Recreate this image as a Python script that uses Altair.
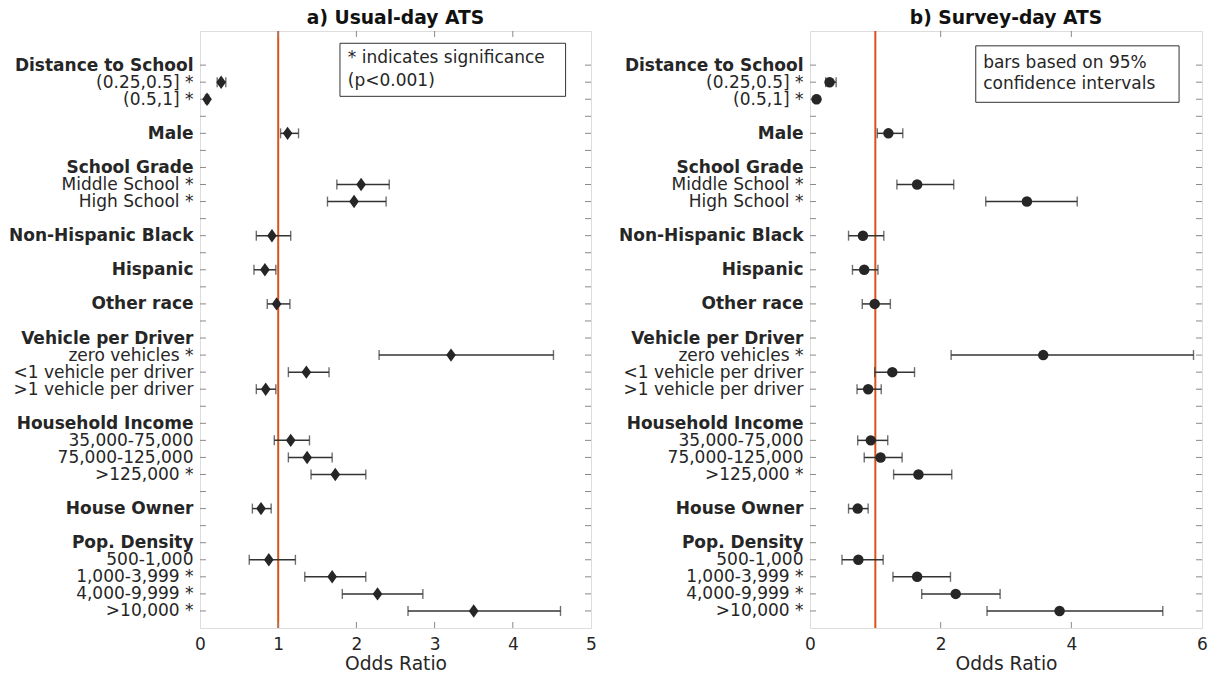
import json
import altair as alt
import pandas as pd

FONT = "DejaVu Sans"

# y-axis rows (positions 2..34 from the top), "" = empty spacer row
row_labels = ["Distance to School", "(0.25,0.5] *", "(0.5,1] *", "", "Male", "",
              "School Grade", "Middle School *", "High School *", "",
              "Non-Hispanic Black", "", "Hispanic", "", "Other race", "",
              "Vehicle per Driver", "zero vehicles *", "<1 vehicle per driver",
              ">1 vehicle per driver", "", "Household Income", "35,000-75,000",
              "75,000-125,000", ">125,000 *", "", "House Owner", "",
              "Pop. Density", "500-1,000", "1,000-3,999 *", "4,000-9,999 *", ">10,000 *"]
bold_labels = ["Distance to School", "Male", "School Grade", "Non-Hispanic Black",
               "Hispanic", "Other race", "Vehicle per Driver", "Household Income",
               "House Owner", "Pop. Density"]

# estimated rows
est_rows = ["(0.25,0.5] *", "(0.5,1] *", "Male", "Middle School *", "High School *",
            "Non-Hispanic Black", "Hispanic", "Other race", "zero vehicles *",
            "<1 vehicle per driver", ">1 vehicle per driver", "35,000-75,000",
            "75,000-125,000", ">125,000 *", "House Owner", "500-1,000",
            "1,000-3,999 *", "4,000-9,999 *", ">10,000 *"]

# a) Usual-day ATS
usual_or = [0.27, 0.09, 1.12, 2.06, 1.97, 0.92, 0.83, 0.98, 3.21, 1.36, 0.84, 1.16,
            1.37, 1.73, 0.78, 0.88, 1.69, 2.27, 3.50]
usual_lo = [0.22, 0.07, 1.03, 1.75, 1.63, 0.72, 0.69, 0.86, 2.29, 1.13, 0.72, 0.95,
            1.13, 1.42, 0.67, 0.63, 1.34, 1.82, 2.66]
usual_hi = [0.33, 0.11, 1.26, 2.42, 2.38, 1.16, 0.97, 1.15, 4.52, 1.65, 0.97, 1.40,
            1.69, 2.12, 0.91, 1.22, 2.12, 2.85, 4.61]

# b) Survey-day ATS
survey_or = [0.30, 0.10, 1.20, 1.64, 3.32, 0.81, 0.83, 0.99, 3.57, 1.26, 0.89, 0.93,
             1.08, 1.66, 0.73, 0.74, 1.64, 2.23, 3.82]
survey_lo = [0.24, 0.08, 1.03, 1.33, 2.69, 0.59, 0.65, 0.80, 2.16, 0.99, 0.72, 0.73,
             0.83, 1.28, 0.59, 0.49, 1.27, 1.71, 2.71]
survey_hi = [0.40, 0.12, 1.42, 2.20, 4.09, 1.13, 1.04, 1.23, 5.87, 1.60, 1.09, 1.19,
             1.41, 2.17, 0.89, 1.12, 2.15, 2.91, 5.40]

W_LEFT, W_RIGHT, H = 391, 392, 597
N_ROWS = 35
AXIS_GRAY = "#8a8a8a"
INK = "#262626"
RED = "#D95319"

tick_positions = list(range(2, 35))
bold_positions = [row_labels.index(b) + 2 for b in bold_labels]


def panel(title, est, lo, hi, shape, size, xmax, xvals, xticks_in, width,
          note_lines, note_x, note_y, box_x, box_x2, box_y, box_y2):
    pos = [row_labels.index(r) + 2 for r in est_rows]
    df = pd.DataFrame({"row": est_rows, "pos": pos, "or": est, "lo": lo, "hi": hi})

    ysc = alt.Scale(domain=[0, N_ROWS], reverse=True, nice=False, zero=False)
    xsc = alt.Scale(domain=[0, xmax], nice=False, zero=False)
    yaxis = alt.Axis(
        values=tick_positions,
        labelExpr=f"{json.dumps(row_labels)}[datum.value - 2]",
        labelFontWeight={"condition": {"test": f"indexof({json.dumps(bold_positions)}, datum.value) >= 0",
                                       "value": "bold"}, "value": "normal"},
        labelOverlap=False, labelBound=False, labelFlush=False, labelLimit=400,
        ticks=False, domain=False, grid=False, labelPadding=7,
        labelFont=FONT, labelFontSize=17, labelColor=INK, title=None,
    )
    xaxis = alt.Axis(
        values=xvals, format="d", ticks=False, domain=False, grid=False,
        labelFlush=False, labelPadding=8, labelFont=FONT, labelFontSize=17,
        labelColor=INK, title="Odds Ratio", titleFont=FONT, titleFontSize=18.7,
        titleFontWeight="normal", titleColor=INK, titlePadding=2,
    )

    def Y(field):
        return alt.Y(f"{field}:Q", scale=ysc, axis=yaxis)

    def X(field):
        return alt.X(f"{field}:Q", scale=xsc, axis=xaxis)

    base = alt.Chart(df)

    ref = alt.Chart(pd.DataFrame({"ref": [1]})).mark_rule(color=RED, strokeWidth=2).encode(
        x=X("ref"))

    bars = base.mark_rule(color="#333333", strokeWidth=1.5).encode(
        x=X("lo"), x2="hi", y=Y("pos"))
    caps_lo = base.mark_tick(color="#333333", orient="vertical", size=10, thickness=1.4).encode(
        x=X("lo"), y=Y("pos"))
    caps_hi = base.mark_tick(color="#333333", orient="vertical", size=10, thickness=1.4).encode(
        x=X("hi"), y=Y("pos"))
    pts = base.mark_point(shape=shape, size=size, filled=True, color=INK, opacity=1).encode(
        x=X("or"), y=Y("pos"))

    yt = alt.Chart(pd.DataFrame({"pos": tick_positions}))
    yt_left = yt.mark_rule(color=AXIS_GRAY, strokeWidth=1).encode(
        y=Y("pos"), x=alt.value(0), x2=alt.value(6))
    yt_right = yt.mark_rule(color=AXIS_GRAY, strokeWidth=1).encode(
        y=Y("pos"), x=alt.value(width - 6), x2=alt.value(width))
    xt = alt.Chart(pd.DataFrame({"xt": xticks_in}))
    xt_top = xt.mark_rule(color=AXIS_GRAY, strokeWidth=1).encode(
        x=X("xt"), y=alt.value(0), y2=alt.value(6))
    xt_bot = xt.mark_rule(color=AXIS_GRAY, strokeWidth=1).encode(
        x=X("xt"), y=alt.value(H - 6), y2=alt.value(H))

    box = alt.Chart(pd.DataFrame({"bx": [box_x], "bx2": [box_x2], "pos": [box_y], "pos2": [box_y2]})).mark_rect(
        fill="white", stroke="#333333", strokeWidth=1).encode(
        x=X("bx"), x2="bx2", y=Y("pos"), y2="pos2")
    note = alt.Chart(pd.DataFrame({"tx": [note_x] * len(note_lines), "pos": note_y, "txt": note_lines})).mark_text(
        align="left", baseline="middle", font=FONT, fontSize=17, color=INK).encode(
        x=X("tx"), y=Y("pos"), text="txt:N")

    return alt.layer(ref, yt_left, yt_right, xt_top, xt_bot, bars, caps_lo, caps_hi, pts, box, note).properties(
        width=width, height=H,
        title=alt.TitleParams(title, font=FONT, fontSize=18.7, fontWeight="bold", color="#111111",
                              anchor="middle", offset=2),
    )


diamond = "M0,-1L0.72,0L0,1L-0.72,0Z"

left = panel("a) Usual-day ATS", usual_or, usual_lo, usual_hi, diamond, 180, 5,
             [0, 1, 2, 3, 4, 5], [1, 2, 3, 4], W_LEFT,
             ["* indicates significance", "(p<0.001)"], 1.89, [1.57, 2.91],
             1.79, 4.675, 0.72, 3.83)
right = panel("b) Survey-day ATS", survey_or, survey_lo, survey_hi, "circle", 110, 6,
              [0, 2, 4, 6], [2, 4], W_RIGHT,
              ["bars based on 95%", "confidence intervals"], 2.65, [1.85, 3.10],
              2.537, 5.649, 0.87, 4.18)

chart = alt.hconcat(left, right, spacing=21).properties(
    padding={"left": 0, "top": 0, "right": 0, "bottom": 0}
).configure_view(stroke=AXIS_GRAY, strokeWidth=1).configure(background="white")

chart.save("out.html", embed_options={"renderer": "svg", "actions": False})
